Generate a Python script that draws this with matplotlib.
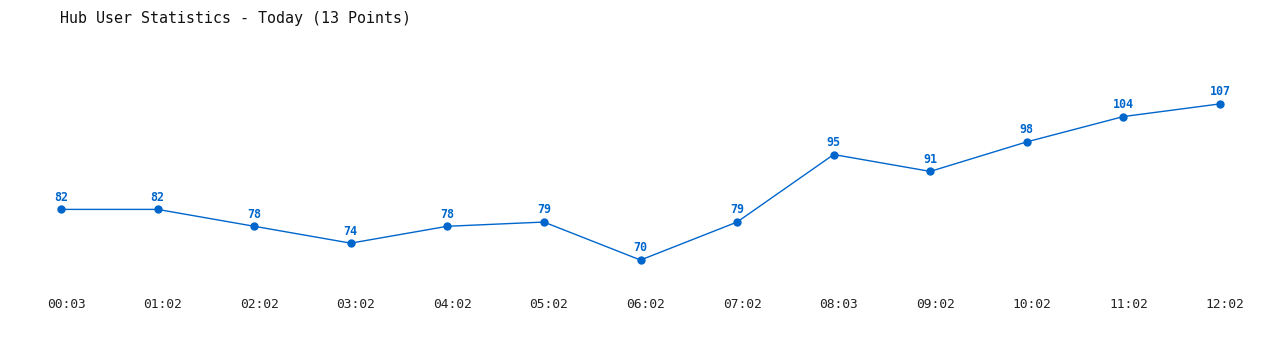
import matplotlib
matplotlib.use('Agg')
import matplotlib.pyplot as plt
import matplotlib.transforms as mtrans

times = ['00:03', '01:02', '02:02', '03:02', '04:02', '05:02', '06:02',
         '07:02', '08:03', '09:02', '10:02', '11:02', '12:02']
users = [82, 82, 78, 74, 78, 79, 70, 79, 95, 91, 98, 104, 107]

blue = '#0066cc'
mono = ['DejaVu Sans Mono']

fig = plt.figure(figsize=(12.8, 3.5), dpi=100)
# axes spans pixel x 61..1220, y 60..290 (top to bottom)
ax = fig.add_axes([61/1280, 60/350, (1220-61)/1280, 230/350])
x = list(range(len(users)))
ax.plot(x, users, color=blue, lw=1, marker='o', ms=5, clip_on=False)
for xi, v in zip(x, users):
    ax.annotate(str(v), (xi, v), xytext=(0, 4), textcoords='offset points',
                ha='center', va='bottom', color=blue, fontsize=8.4,
                fontweight='bold', family=mono)
ax.set_xlim(0, 12)
ax.set_ylim(62.9, 117.4)
ax.set_xticks(x)
ax.set_xticklabels(times, family=mono, fontsize=9.3, color='#222222')
ax.tick_params(axis='x', length=0, pad=6)
shift = mtrans.ScaledTranslation(5/100, 0, fig.dpi_scale_trans)
for lab in ax.get_xticklabels():
    lab.set_transform(lab.get_transform() + shift)
ax.set_yticks([])
for s in ax.spines.values():
    s.set_visible(False)
fig.text(60/1280, 1 - 18/350, 'Hub User Statistics - Today (13 Points)',
         family=mono, fontsize=10.8, va='center', ha='left',
         color='#111111')
fig.savefig('out.png', dpi=100)
